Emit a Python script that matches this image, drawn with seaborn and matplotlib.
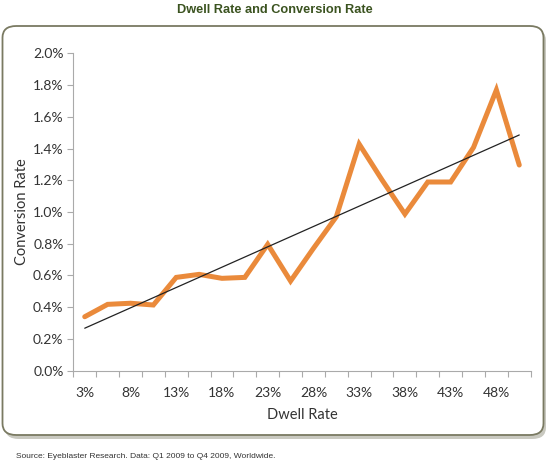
import numpy as np
import pandas as pd
import matplotlib
matplotlib.use("Agg")
import matplotlib.pyplot as plt
from matplotlib.patches import FancyBboxPatch
from matplotlib.ticker import FuncFormatter, FixedLocator
import seaborn as sns

# dwell rate buckets (only every other one gets a label)
dwell_labels = ["3%", "5.5%", "8%", "10.5%", "13%", "15.5%", "18%", "20.5%", "23%", "25.5%",
                "28%", "30.5%", "33%", "35.5%", "38%", "40.5%", "43%", "45.5%", "48%", "50.5%"]
# conversion rate in percent
conversion = [0.34, 0.418, 0.425, 0.414, 0.588, 0.607, 0.582, 0.588, 0.796, 0.565,
              0.771, 0.970, 1.428, 1.202, 0.987, 1.189, 1.189, 1.407, 1.769, 1.296]

df = pd.DataFrame({"pos": np.arange(len(dwell_labels)), "conv": conversion})

sns.set_style("white")
plt.rcParams['font.family'] = ['Lato', 'DejaVu Sans']

fig = plt.figure(figsize=(5.5, 4.63), dpi=100)

# rounded frame with a soft shadow
shadow = FancyBboxPatch((5 / 550, 1 - 439 / 463), 541 / 550, 410 / 463,
                        boxstyle="round,pad=0,rounding_size=0.025",
                        transform=fig.transFigure, facecolor="#c9c9c0",
                        edgecolor="none", zorder=0)
frame = FancyBboxPatch((2.5 / 550, 1 - 435 / 463), 541 / 550, 409 / 463,
                       boxstyle="round,pad=0,rounding_size=0.025",
                       transform=fig.transFigure, facecolor="white",
                       edgecolor="#7a7a62", linewidth=1.3, zorder=1)
fig.patches.extend([shadow, frame])

ax = fig.add_axes([73.3 / 550, 1 - 370.7 / 463, 457.4 / 550, 317.4 / 463])
ax.set_facecolor("none")
ax.set_zorder(2)

sns.lineplot(data=df, x="pos", y="conv", ax=ax, color="#ea8a3b", linewidth=3.6,
             solid_joinstyle="miter")
sns.regplot(data=df, x="pos", y="conv", ax=ax, scatter=False, ci=None,
            line_kws={"color": "#222222", "linewidth": 0.9})

ax.set_xlim(-0.5, len(dwell_labels) - 0.5)
ax.set_ylim(0, 2.0)
ax.set_yticks(np.arange(0, 2.01, 0.2))
ax.yaxis.set_major_formatter(FuncFormatter(lambda v, p: f"{v:.1f}%"))

ax.xaxis.set_major_locator(FixedLocator(list(range(0, len(dwell_labels), 2))))
ax.set_xticklabels(dwell_labels[::2])
ax.xaxis.set_minor_locator(FixedLocator(np.arange(-0.5, len(dwell_labels), 1.0)))

ax.tick_params(axis="x", which="major", length=0, pad=12, labelsize=10, colors="#333333")
ax.tick_params(axis="x", which="minor", length=4, width=0.8, color="#aaaaaa", direction="out")
ax.tick_params(axis="y", which="major", length=4, width=0.8, color="#aaaaaa",
               labelsize=10, labelcolor="#333333", pad=3)
ax.tick_params(bottom=True, left=True, which="both")

for s in ["top", "right"]:
    ax.spines[s].set_visible(False)
for s in ["left", "bottom"]:
    ax.spines[s].set_color("#aaaaaa")
    ax.spines[s].set_linewidth(0.8)

ax.set_xlabel("Dwell Rate", fontsize=10.5, color="#333333", labelpad=6)
ax.set_ylabel("Conversion Rate", fontsize=10.5, color="#333333", labelpad=3)

fig.text(0.5, 1 - 10 / 463, "Dwell Rate and Conversion Rate", ha="center", va="center",
         fontsize=9.2, fontweight="bold", color="#3b5320", family=["Liberation Sans", "DejaVu Sans"])
fig.text(16 / 550, 1 - 457 / 463,
         "Source: Eyeblaster Research. Data: Q1 2009 to Q4 2009, Worldwide.",
         ha="left", va="center", fontsize=6, color="#333333",
         family=["Liberation Sans", "DejaVu Sans"])

fig.savefig("out.png", dpi=100)
